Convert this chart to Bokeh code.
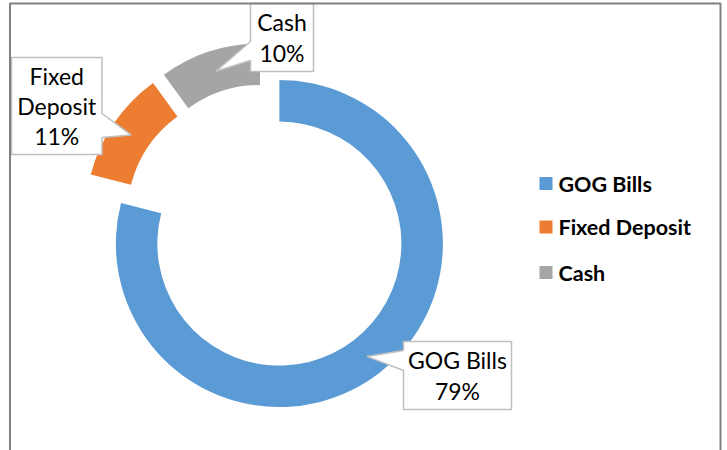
import math
from bokeh.plotting import figure
from bokeh.models import Range1d
from bokeh.core.properties import value
from bokeh.embed import file_html
from bokeh.resources import INLINE

# ---- data ----
categories = ["GOG Bills", "Fixed Deposit", "Cash"]
shares = [79, 11, 10]
pct_labels = ["79%", "11%", "10%"]
callout_names = ["GOG Bills", "Fixed\nDeposit", "Cash"]
colors = ["#5b9bd5", "#ed7d31", "#a5a5a5"]

# ---- layout (screen pixels, y downward) ----
W, H = 727, 450
CX, CY = 266.0, 226.5
EXPLODE = 21.0
R_OUT, R_IN = 163.5, 122.0
R_MID = (R_OUT + R_IN) / 2

# callout boxes: (left, top, right, bottom), pointer side, pointer base (y1, y2)
boxes = [
    ((403, 341, 511, 409), "left", (350, 370)),
    ((11, 57, 101.5, 154), "right", (113, 137)),
    ((250, 3, 313, 71), "left", (41, 60)),
]

LEG_X = 545.5
LEG_Y = [183, 226.5, 272]
LEG_TEXT_X = 558

def sy(v):
    return H - v

p = figure(width=W, height=H, x_range=Range1d(0, W), y_range=Range1d(0, H),
           output_backend="svg", toolbar_location=None, min_border=0,
           x_axis_type=None, y_axis_type=None)
p.grid.visible = False
p.outline_line_color = None
p.background_fill_color = "white"
p.border_fill_color = "white"

total = float(sum(shares))
cum = 0.0
tips = []
for i, s in enumerate(shares):
    t0 = cum / total * 360.0
    t1 = (cum + s) / total * 360.0
    cum += s
    mid = math.radians((t0 + t1) / 2)
    cx = CX + EXPLODE * math.sin(mid)
    cy = sy(CY) + EXPLODE * math.cos(mid)
    p.annular_wedge(x=[cx], y=[cy], inner_radius=R_IN, outer_radius=R_OUT,
                    start_angle=[math.radians(90 - t1)], end_angle=[math.radians(90 - t0)],
                    direction="anticlock", fill_color=colors[i], line_color=None)
    tips.append((cx + R_MID * math.sin(mid), cy + R_MID * math.cos(mid)))

# callouts
for i, (box, side, base) in enumerate(boxes):
    l, t, r, b = box
    tx, ty = tips[i]
    y1, y2 = base
    if side == "left":
        xs = [l, r, r, l, l, tx, l]
        ys = [sy(t), sy(t), sy(b), sy(b), sy(y2), ty, sy(y1)]
    else:
        xs = [l, r, r, tx, r, r, l]
        ys = [sy(t), sy(t), sy(y1), ty, sy(y2), sy(b), sy(b)]
    p.patch(xs, ys, fill_color="white", line_color="#bfbfbf", line_width=1.5)
    p.text(x=[(l + r) / 2], y=[sy((t + b) / 2)], text=[callout_names[i] + "\n" + pct_labels[i]],
           text_align="center", text_baseline="middle", text_font=value("Lato"),
           text_font_size="23px", text_color="#000000", text_line_height=1.08)

# legend
for i, name in enumerate(categories):
    p.scatter(x=[LEG_X], y=[sy(LEG_Y[i])], marker="square", size=13,
              fill_color=colors[i], line_color=None)
    p.text(x=[LEG_TEXT_X], y=[sy(LEG_Y[i])], text=[name], text_align="left",
           text_baseline="middle", text_font=value("Lato"), text_font_size="21.5px",
           text_font_style="bold", text_color="#000000")

# chart frame
p.line(x=[9.5, 9.5, 720, 720], y=[0, sy(3), sy(3), 0], line_color="#808080", line_width=2)

open("out.html", "w").write(file_html(p, INLINE))
